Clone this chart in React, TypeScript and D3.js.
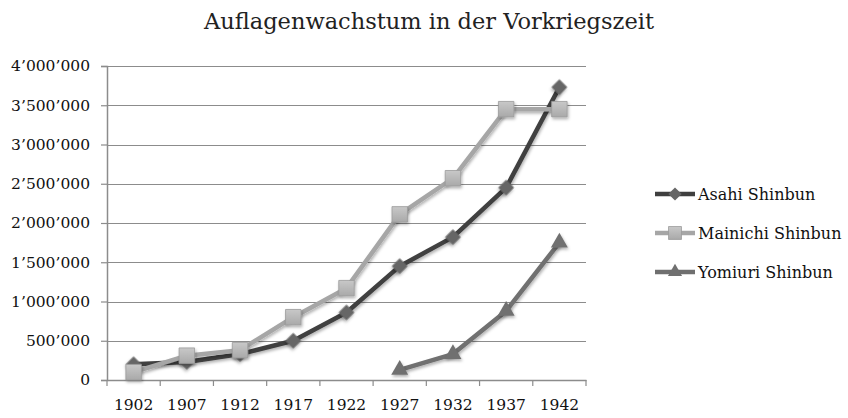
import * as d3 from "d3";
import React, { useEffect, useRef } from "react";

const years = ["1902", "1907", "1912", "1917", "1922", "1927", "1932", "1937", "1942"];
const asahi = [200000, 230000, 330000, 500000, 860000, 1450000, 1820000, 2450000, 3730000];
const mainichi = [100000, 310000, 380000, 800000, 1170000, 2110000, 2570000, 3450000, 3450000];
const yomiuri = [null, null, null, null, null, 130000, 330000, 880000, 1750000];
const yTicks = [0, 500000, 1000000, 1500000, 2000000, 2500000, 3000000, 3500000, 4000000];
const seriesNames = ["Asahi Shinbun", "Mainichi Shinbun", "Yomiuri Shinbun"];

const FONT = "'DejaVu Serif', serif";

function drawChart(el: SVGSVGElement) {
  const svg = d3.select(el);
  svg.selectAll("*").remove();

  const margin = { top: 66, left: 107, right: 262, bottom: 38 };
  const width = 848 - margin.left - margin.right,
    height = 418 - margin.top - margin.bottom;

  const defs = svg.append("defs");
  const f = defs.append("filter").attr("id", "shadow").attr("x", "-50%").attr("y", "-50%").attr("width", "200%").attr("height", "200%");
  f.append("feDropShadow").attr("dx", 1).attr("dy", 2).attr("stdDeviation", 1.5).attr("flood-color", "#000").attr("flood-opacity", 0.3);

  const grad = defs.append("linearGradient").attr("id", "sq").attr("x1", 0).attr("y1", 0).attr("x2", 0).attr("y2", 1);
  grad.append("stop").attr("offset", "0%").attr("stop-color", "#c8c8c8");
  grad.append("stop").attr("offset", "100%").attr("stop-color", "#a9a9a9");

  svg
    .append("text")
    .attr("x", 429)
    .attr("y", 29)
    .attr("text-anchor", "middle")
    .style("font-family", FONT)
    .style("font-size", "22.5px")
    .attr("fill", "#222")
    .text("Auflagenwachstum in der Vorkriegszeit");

  const g = svg.append("g").attr("transform", `translate(${margin.left},${margin.top})`);

  const x = d3.scaleBand().domain(years).range([0, width]);
  const y = d3.scaleLinear().domain([0, 4000000]).range([height, 0]);

  // grid
  g.append("g")
    .selectAll("line")
    .data(yTicks)
    .join("line")
    .attr("x1", 0)
    .attr("x2", width)
    .attr("y1", d => Math.round(y(d)) + 0.5)
    .attr("y2", d => Math.round(y(d)) + 0.5)
    .attr("stroke", "#8c8c8c")
    .attr("stroke-width", 1.2);

  const fmt = (d: number) => d3.format(",")(d).replace(/,/g, "\u2019");

  const yAxis = g
    .append("g")
    .call(d3.axisLeft(y).tickValues(yTicks).tickSize(6).tickPadding(11).tickFormat(d => fmt(+d)));
  yAxis.select(".domain").attr("stroke", "#8c8c8c").attr("stroke-width", 1.5);
  yAxis.selectAll(".tick line").attr("stroke", "#8c8c8c").attr("stroke-width", 1.2);
  yAxis.selectAll("text").style("font-family", FONT).style("font-size", "15.5px").attr("fill", "#111");

  const xAxis = g
    .append("g")
    .attr("transform", `translate(0,${height})`)
    .call(d3.axisBottom(x).tickSize(0).tickPadding(19));
  xAxis.select(".domain").attr("stroke", "#8c8c8c").attr("stroke-width", 1.5);
  xAxis.selectAll("text").style("font-family", FONT).style("font-size", "15.5px").attr("fill", "#111");
  g.append("g")
    .selectAll("line")
    .data(d3.range(years.length + 1))
    .join("line")
    .attr("x1", i => x.step() * i)
    .attr("x2", i => x.step() * i)
    .attr("y1", height)
    .attr("y2", height + 6)
    .attr("stroke", "#8c8c8c")
    .attr("stroke-width", 1.2);

  const cx = (i: number) => (x(years[i]) as number) + x.bandwidth() / 2;

  const series = [
    { name: seriesNames[0], values: asahi, color: "#3f3f3f", fill: "#666", shape: d3.symbolSquare, size: 125, rot: 45 },
    { name: seriesNames[1], values: mainichi, color: "#a6a6a6", fill: "url(#sq)", shape: d3.symbolSquare, size: 240, rot: 0 },
    { name: seriesNames[2], values: yomiuri, color: "#6f6f6f", fill: "#707070", shape: d3.symbolTriangle, size: 125, rot: 0 },
  ];

  const line = d3
    .line<number | null>()
    .defined(d => d != null)
    .x((_, i) => cx(i))
    .y(d => y(d as number));

  series.forEach(s => {
    g.append("path")
      .datum(s.values)
      .attr("d", line)
      .attr("fill", "none")
      .attr("stroke", s.color)
      .attr("stroke-width", 4.5)
      .attr("stroke-linejoin", "round")
      .attr("filter", "url(#shadow)");
    g.append("g")
      .selectAll("path")
      .data(s.values.map((v, i) => ({ v, i })).filter(d => d.v != null))
      .join("path")
      .attr("d", d3.symbol().type(s.shape).size(s.size))
      .attr("transform", d => `translate(${cx(d.i)},${y(d.v as number)}) rotate(${s.rot})`)
      .attr("fill", s.fill)
      .attr("stroke", s.rot === 0 && s.shape === d3.symbolSquare ? "#9a9a9a" : "none")
      .attr("stroke-width", 0.8)
      .attr("filter", "url(#shadow)");
  });

  // legend
  const lg = svg.append("g").attr("transform", "translate(655,194)");
  series.forEach((s, i) => {
    const row = lg.append("g").attr("transform", `translate(0,${i * 39})`);
    row.append("line").attr("x1", 0).attr("x2", 40).attr("y1", 0).attr("y2", 0).attr("stroke", s.color).attr("stroke-width", 4.5);
    row
      .append("path")
      .attr("d", d3.symbol().type(s.shape).size(s.size * 0.7))
      .attr("transform", `translate(20,0) rotate(${s.rot})`)
      .attr("fill", s.fill)
      .attr("stroke", s.rot === 0 && s.shape === d3.symbolSquare ? "#9a9a9a" : "none")
      .attr("stroke-width", 0.8);
    row
      .append("text")
      .attr("x", 43)
      .attr("y", 0)
      .attr("dy", "0.35em")
      .style("font-family", FONT)
      .style("font-size", "16px")
      .attr("fill", "#111")
      .text(s.name);
  });
}

export default function App() {
  const ref = useRef<SVGSVGElement>(null);
  useEffect(() => {
    if (ref.current) drawChart(ref.current);
  }, []);
  return <svg ref={ref} width={848} height={418} style={{ position: "absolute", left: 0, top: 0 }} />;
}
